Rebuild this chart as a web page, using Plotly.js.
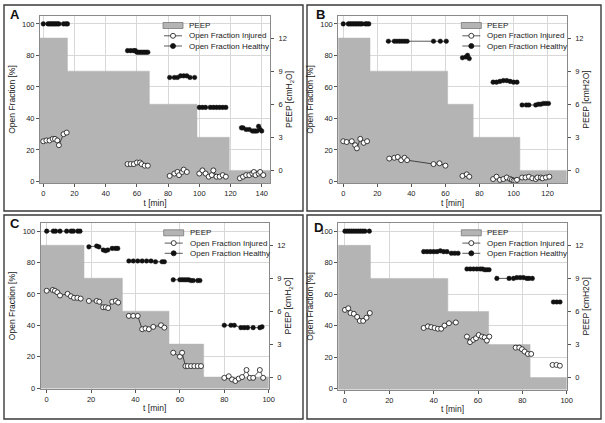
<!DOCTYPE html>
<html><head><meta charset="utf-8">
<script src="https://cdn.plot.ly/plotly-3.0.1.min.js"></script>
<style>html,body{margin:0;padding:0;background:#fff}#chart{width:605px;height:423px}</style>
</head><body><div id="chart"></div>
<script>
// ---------- data ----------
const aPeepT=[-5,15.5,68,98.5,119.2,150];
const aPeepV=[12,9,6,3,0,0];
const aHealthyT=[0,3,4,5,6,7,8,9,10,13,14.5,15.5,null,54,56,58,59,60,61,62,63,64,65,66,67,null,81,84,86,88,90,92,94,97,null,100,102,104,107,109,111,113,115,117,null,127,128,130,132,134,135,136,137,138,139,140];
const aHealthyV=[100,100,100,100,100,100,100,100,100,100,100,100,null,83,83,83,83,82,82,82,82,82,82,82,82,null,66,66,66,67,67,67,66,66,null,47,47,47,47,47,47,47,47,47,null,34,34,33,33,32,32,32,32,35,33,32];
const aInjuredT=[0,2,4,6,7.5,9,10,13,15,null,54,56,58,60,62,63,65,67,null,81,84,86,87,89,90,92,null,100,102,104,106,108,109,111,113,115,117,null,126,128,130,132,134,135,136,138,139,141];
const aInjuredV=[25.5,26,26,27,27,26,23,30,31,null,11,11,11,12,12,11,10,10,null,3.5,5,6,4,6,7.5,6,null,5,7,5,3,4,7,3,3,4,3,null,2,3,4,4,5,6,4,5,6,4];

const bPeepT=[-5,15.7,61.3,76.3,103.7,140];
const bPeepV=[12,9,6,3,0,0];
const bHealthyT=[0,3,4,5,6,7,8,9,10,11,13,14,15,null,26.5,30,31.5,33,34.5,36,37.5,53,57,60.5,null,70,72,73,74,null,88,90,92,94,96,98,100,102,null,105,107.5,109,113,114.5,116,117.5,119,120.5];
const bHealthyV=[100,100,100,100,100,100,100,100,100,100,100,100,100,null,89,89,89,89,89,89,89,89,89,89,null,78.5,79,80,78,null,63,63,63.5,64,64,63.5,63,63,null,48.5,48.5,48.5,48.5,49,49,49.5,49.5,49.5];
const bInjuredT=[0,2,5,7,8,10,12,14,null,27,30,32,34,36,37.5,53,56.5,60,null,70,72.5,74,null,88,90,92,94,96,98,99,100,101,102,null,105,107,109,111,113,114,116,117,119,121];
const bInjuredV=[25.5,25,25.5,23,21,27,24.5,25.5,null,14.5,15,15.5,13.5,15,13.5,11,11.5,10,null,3.5,4.5,3,null,1.5,3,1,1.5,2.5,1.5,1,0.5,0.5,1,null,2.5,2.5,3,2,1.5,2.5,2.5,2,2.5,3];

const cPeepT=[-5,16.8,34.1,55.1,70.7,110];
const cPeepV=[12,9,6,3,0,0];
const cHealthyT=[0,3,4,6,9,11,12,14,15,null,19,22.5,23.5,25.5,26.5,27.5,29.5,31,32,null,37,39,41,43,45,47,49,52,53,null,57,60,61,62,63,64,65,66,68,69,null,80,83,84.5,87.5,89,90.5,93,96,97];
const cHealthyV=[100,100,100,100,100,100,100,100,100,null,90,90.5,90,88,87.5,88,89,89,89,null,81,81,81,81,81,81,80.5,80.5,80.5,null,69,69,69,69,69,69,68.5,68.5,68.5,68.5,null,40,40,40,38.5,38.5,38.5,38.5,38.5,39];
const cInjuredT=[0,2.7,3.7,4.8,6,9.4,10.9,12.3,13.8,15.3,null,19,22.5,23.7,25.4,26.6,27.7,29.5,31.1,32.2,null,37,39,41,43,44.5,46,48,51.5,53,null,57,60,61,62.5,63.5,65,66.5,68,69.5,null,80,82,83.5,85,86.5,88,90,91.5,93,96,97.5];
const cInjuredV=[62,62.5,62,61,59,60,58.5,57.5,57.5,57,null,55.5,55.5,55,51.5,51.5,51,55,55.5,54.5,null,46,46,46,37.5,38,37.5,39,40,38.5,null,22.5,20,22.5,14,14,14,14,14,14,null,6.5,7.5,5.5,4.5,6,7,11.5,6.5,6.5,11.5,6.5];

const dPeepT=[-5,11.5,46.4,64.8,83.5,110];
const dPeepV=[12,9,6,3,0,0];
const dHealthyT=[0,1,2,3,4,5,6,7,8,9,11,null,35.5,37,38.5,40,41.5,43,44.5,46,48,49.5,51,null,55,56.5,58,59.5,61,62,63,64,65,null,68.5,74,76,77.5,79,80.5,82,83,84.5,null,94,95.5,97];
const dHealthyV=[100,100,100,100,100,100,100,100,100,100,100,null,87,87,87,87,87,87.5,87,87,86,86,86,null,76,76,76,76,76,76,75.5,75.5,75.5,null,70,70,70,70.5,70.5,70.5,70,70,70,null,55,55,55];
const dInjuredT=[0,1.5,2.5,4,5.5,6.7,8.2,9.7,11.2,null,35.5,37.4,38.9,40.4,41.9,43.4,44.9,46.9,50,null,55,56.4,57.9,59.1,60.3,61.8,63,64,65.1,null,77,78.6,79.8,81,82.5,84,null,93.6,95.4,96.9];
const dInjuredV=[50,51,48,47.5,45.5,43,43,45,48,null,38.5,39.5,39,38.5,38,38,40,41.5,42,null,33,29.5,31,32,34,33,32.5,30.5,33,null,26,26,25,23.5,22,22,null,15,15,14.5];

const xTicksA=[0,20,40,60,80,100,120,140];
const xTicksB=[0,20,40,60,80,100,120];
const xTicksC=[0,20,40,60,80,100];
const xTicksD=[0,20,40,60,80,100];
const fracTicks=[0,20,40,60,80,100];
const peepTicks=[0,3,6,9,12];
const panelLabels=['A','B','C','D'];
const legendLabels=['PEEP','Open Fraction Injured','Open Fraction Healthy'];
const fracTitle='Open Fraction [%]';
const timeTitle='t [min]';
const peepTitles=['PEEP [cmH<sub>2</sub>O]','PEEP [cmH2O]','PEEP [cmH<sub>2</sub>O]','PEEP [cmH2O]'];

// ---------- layout / style ----------
const W=605,H=423;
const FONT='"Liberation Sans", Arial, Helvetica, sans-serif';
const GREY='#b4b4b4', GRID='#d8d8d8', LINE='#8a8a8a', INK='#111', TXT='#222';
const X=px=>px/W, Y=py=>1-py/H;

const panels=[
 {peepT:aPeepT,peepV:aPeepV,hT:aHealthyT,hV:aHealthyV,iT:aInjuredT,iV:aInjuredV,xt:xTicksA,
  box:[40,16,270,183],frame:[4,5,303,211],xr:[-2.1,145.3],fr:[-1,105],lab:[8,14.2]},
 {peepT:bPeepT,peepV:bPeepV,hT:bHealthyT,hV:bHealthyV,iT:bInjuredT,iV:bInjuredV,xt:xTicksB,
  box:[338.3,16,566.7,183],frame:[307,5,601,211],xr:[-2.9,131.2],fr:[-1,105],lab:[314,14.2]},
 {peepT:cPeepT,peepV:cPeepV,hT:cHealthyT,hV:cHealthyV,iT:cInjuredT,iV:cInjuredV,xt:xTicksC,
  box:[40.7,223.3,268.7,388.5],frame:[4,215,303,419],xr:[-2.7,100],fr:[-0.3,105],lab:[8,223]},
 {peepT:dPeepT,peepV:dPeepV,hT:dHealthyT,hV:dHealthyV,iT:dInjuredT,iV:dInjuredV,xt:xTicksD,
  box:[338.3,223.3,566.7,389.5],frame:[307,215,601,419],xr:[-3,100],fr:[-0.6,105],lab:[312,227.5]}
];

const traces=[], shapes=[], annotations=[];
const layout={width:W,height:H,margin:{l:0,r:0,t:0,b:0},paper_bgcolor:'#fff',plot_bgcolor:'#fff',
  showlegend:false,font:{family:FONT,size:8,color:TXT}};

panels.forEach((p,i)=>{
  const n=i+1;
  const xRef=i===0?'x':'x'+n, xKey=i===0?'xaxis':'xaxis'+n;
  const bIdx=2*i+1, oIdx=2*i+2;
  const bRef=bIdx===1?'y':'y'+bIdx, bKey=bIdx===1?'yaxis':'yaxis'+bIdx;
  const oRef='y'+oIdx, oKey='yaxis'+oIdx;
  const [l,t,r,b]=p.box;
  const pr=[(p.fr[0]-7)/7,(p.fr[1]-7)/7];
  const tick={ticks:'outside',ticklen:3,tickwidth:1,tickcolor:'#555',tickfont:{size:7.5,color:TXT},zeroline:false,fixedrange:true};
  const tfont={size:8.5,color:TXT};

  layout[xKey]=Object.assign({},tick,{domain:[X(l),X(r)],anchor:bRef,range:p.xr,tickvals:p.xt,
    showgrid:true,gridcolor:GRID,gridwidth:1,showline:true,mirror:true,linecolor:LINE,linewidth:1,
    title:{text:timeTitle,font:tfont,standoff:2}});
  layout[bKey]=Object.assign({},tick,{domain:[Y(b),Y(t)],anchor:xRef,side:'right',range:pr,tickvals:peepTicks,
    showgrid:false,showline:false,ticklabelstandoff:3,
    title:{text:peepTitles[i],font:tfont,standoff:0}});
  layout[oKey]=Object.assign({},tick,{overlaying:bRef,anchor:xRef,side:'left',range:p.fr,tickvals:fracTicks,
    showgrid:true,gridcolor:GRID,gridwidth:1,showline:true,mirror:true,linecolor:LINE,linewidth:1,
    title:{text:fracTitle,font:tfont,standoff:5}});

  const base=pr[0]-2;
  traces.push({x:[p.peepT[0],p.peepT[p.peepT.length-1]],y:[base,base],xaxis:xRef,yaxis:bRef,
    mode:'lines',line:{width:0,color:GREY},hoverinfo:'skip',showlegend:false});
  traces.push({x:p.peepT,y:p.peepV,xaxis:xRef,yaxis:bRef,mode:'lines',name:legendLabels[0],
    line:{shape:'hv',width:0.5,color:GREY},fill:'tonexty',fillcolor:GREY});
  traces.push({x:p.iT,y:p.iV,xaxis:xRef,yaxis:oRef,mode:'lines+markers',connectgaps:false,name:legendLabels[1],
    line:{color:INK,width:0.7},marker:{symbol:'circle',size:5,color:'#fff',line:{color:INK,width:0.8}}});
  traces.push({x:p.hT,y:p.hV,xaxis:xRef,yaxis:oRef,mode:'lines+markers',connectgaps:false,name:legendLabels[2],
    line:{color:INK,width:0.7},marker:{symbol:'circle',size:4.6,color:INK,line:{color:INK,width:0.4}}});

  // panel frame
  const [fl,ft,fr2,fb]=p.frame;
  shapes.push({type:'rect',xref:'paper',yref:'paper',x0:X(fl),x1:X(fr2),y0:Y(fb),y1:Y(ft),line:{color:'#3a3a3a',width:1.4}});
  // panel letter
  annotations.push({xref:'paper',yref:'paper',x:X(p.lab[0]),y:Y(p.lab[1]),xanchor:'left',yanchor:'middle',
    text:'<b>'+panelLabels[i]+'</b>',showarrow:false,font:{size:13,color:'#111'}});

  // legend (drawn)
  const sx0=l+123, sx1=l+143, tx=l+147, rows=[t+9.5,t+19.8,t+30];
  shapes.push({type:'rect',xref:'paper',yref:'paper',x0:X(sx0),x1:X(sx1),y0:Y(rows[0]+3),y1:Y(rows[0]-3),
    fillcolor:GREY,line:{color:'#777',width:0.8}});
  [1,2].forEach(k=>{
    const cy=rows[k], cx=(sx0+sx1)/2, rr=2.5;
    shapes.push({type:'line',xref:'paper',yref:'paper',x0:X(sx0+1),x1:X(sx1-1),y0:Y(cy),y1:Y(cy),line:{color:INK,width:0.7}});
    shapes.push({type:'circle',xref:'paper',yref:'paper',x0:X(cx-rr),x1:X(cx+rr),y0:Y(cy+rr),y1:Y(cy-rr),
      fillcolor:k===1?'#fff':INK,line:{color:INK,width:0.8}});
  });
  rows.forEach((ry,k)=>{
    annotations.push({xref:'paper',yref:'paper',x:X(tx),y:Y(ry),xanchor:'left',yanchor:'middle',
      text:legendLabels[k],showarrow:false,font:{size:8,color:TXT}});
  });
});
layout.shapes=shapes;
layout.annotations=annotations;
Plotly.newPlot('chart',traces,layout,{staticPlot:true,displayModeBar:false});
</script>
</body></html>
